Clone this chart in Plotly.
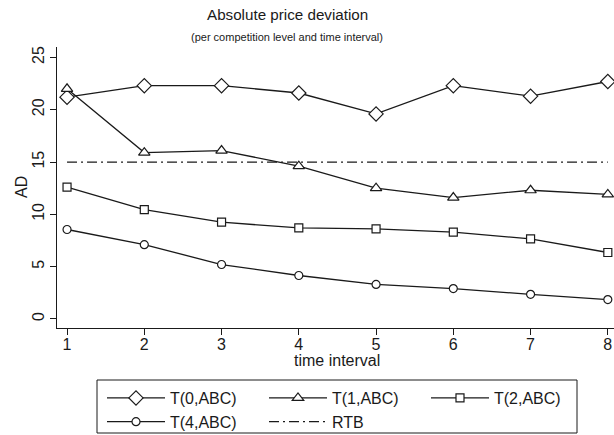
import plotly.graph_objects as go

intervals = [1, 2, 3, 4, 5, 6, 7, 8]
t0 = [21.2, 22.3, 22.3, 21.6, 19.6, 22.3, 21.3, 22.7]
t1 = [22.0, 15.9, 16.1, 14.6, 12.5, 11.6, 12.3, 11.9]
t2 = [12.6, 10.45, 9.25, 8.7, 8.6, 8.3, 7.65, 6.35]
t4 = [8.55, 7.1, 5.2, 4.15, 3.3, 2.9, 2.35, 1.85]
rtb = [15, 15, 15, 15, 15, 15, 15, 15]
series_names = ["T(0,ABC)", "T(1,ABC)", "T(2,ABC)", "T(4,ABC)"]
yticks = [0, 5, 10, 15, 20, 25]

W, H = 614, 435
ML, MT, MB = 57, 47, 107
W_PLOT = W - ML
H_PLOT = H - MT - MB


def px_x(p):
    return (p - ML) / W_PLOT


def px_y(p):
    return (H - MB - p) / H_PLOT


font = "Liberation Sans, Arial, sans-serif"
ink = "#1a1a1a"
fig = go.Figure()
specs = [(t0, "diamond", 11), (t1, "triangle-up", 10), (t2, "square", 8), (t4, "circle", 8)]
for name, (vals, sym, sz) in zip(series_names, specs):
    fig.add_trace(go.Scatter(
        x=intervals, y=vals, name=name, mode="lines+markers", cliponaxis=False,
        line=dict(color=ink, width=1.3),
        marker=dict(symbol=sym, size=sz, color="white",
                    line=dict(color=ink, width=1.2)),
    ))
fig.add_trace(go.Scatter(
    x=intervals, y=rtb, name="RTB", mode="lines",
    line=dict(color=ink, width=1.2, dash="10px,4px,2px,4px"),
))

fig.update_layout(
    width=W, height=H,
    margin=dict(l=ML, r=0, t=MT, b=MB, autoexpand=False),
    paper_bgcolor="white", plot_bgcolor="white",
    font=dict(family=font, size=16, color=ink),
    showlegend=True,
    legend=dict(
        orientation="h", x=102 / W, y=1 - 381 / H, xref="container", yref="container",
        xanchor="left", yanchor="top",
        borderwidth=0, bgcolor="rgba(0,0,0,0)",
        entrywidth=89, entrywidthmode="pixels", itemwidth=58,
        font=dict(size=16, family=font), tracegroupgap=0,
    ),
    xaxis=dict(
        range=[0.87, 8.08], tickvals=intervals, showgrid=False, zeroline=False,
        showline=True, linecolor=ink, linewidth=1, automargin=False,
        ticks="outside", ticklen=6, tickcolor=ink, ticklabelstandoff=-4,
        tickfont=dict(size=16),
    ),
    yaxis=dict(
        range=[-0.87, 26], tickvals=yticks, showgrid=False, zeroline=False,
        showline=True, linecolor=ink, linewidth=1, automargin=False,
        ticks="outside", ticklen=6, tickcolor=ink, tickangle=-90,
        tickfont=dict(size=16),
    ),
)
# legend frame
fig.add_shape(type="rect", xref="paper", yref="paper",
              x0=px_x(97), x1=px_x(577), y0=px_y(433), y1=px_y(380),
              line=dict(color=ink, width=1), fillcolor="rgba(0,0,0,0)")
# axis titles
fig.add_annotation(text="time interval", xref="paper", yref="paper",
                   x=px_x(337), y=px_y(360), yanchor="middle", xanchor="center",
                   showarrow=False, font=dict(size=16))
fig.add_annotation(text="AD", xref="paper", yref="paper", textangle=-90,
                   x=px_x(21), y=px_y(187), yanchor="middle", xanchor="center",
                   showarrow=False, font=dict(size=16))
# titles
fig.add_annotation(text="Absolute price deviation", xref="paper", yref="paper",
                   x=px_x(287), y=px_y(15), yanchor="middle",
                   showarrow=False, font=dict(size=15.2))
fig.add_annotation(text="(per competition level and time interval)", xref="paper", yref="paper",
                   x=px_x(287), y=px_y(37), yanchor="middle",
                   showarrow=False, font=dict(size=11))
fig.write_html("out.html", config={"displayModeBar": False},
               post_script="document.body.style.margin='0';")
